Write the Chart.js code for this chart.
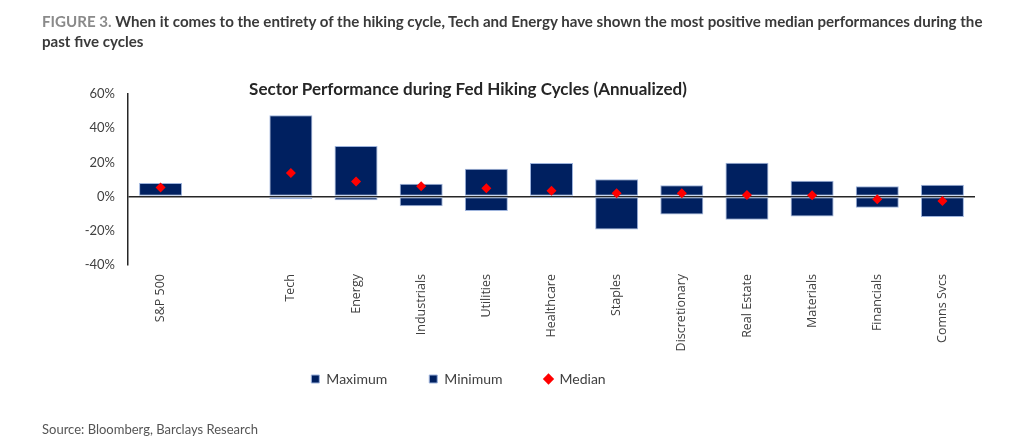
<!DOCTYPE html>
<html><head><meta charset="utf-8">
<script src="https://cdn.jsdelivr.net/npm/chart.js@4.4.1/dist/chart.umd.min.js"></script>
<style>
html,body{margin:0;padding:0;background:#fff;width:1024px;height:440px;overflow:hidden;position:relative;font-family:Lato,sans-serif}
#wrap{position:absolute;left:0;top:0;width:1024px;height:440px}
#fig{position:absolute;left:42px;top:11px;white-space:nowrap;font-size:15.1px;font-weight:700;line-height:20px;color:#3a3a3a}
#fig .lab{color:#8a8a8a}
#ctitle{position:absolute;left:468px;top:78px;transform:translateX(-50%);white-space:nowrap;font-weight:700;font-size:17px;color:#262626}
#src{position:absolute;left:42px;top:421px;white-space:nowrap;font-size:13px;color:#555}
#probe{position:absolute;left:-999px;top:0;font-family:'Open Sans';font-size:12px}
</style></head><body>
<div id="wrap"><canvas id="c" width="1024" height="440"></canvas></div>
<div id="fig"><span class="lab">FIGURE 3.</span> When it comes to the entirety of the hiking cycle, Tech and Energy have shown the most positive median performances during the<br>past five cycles</div>
<div id="ctitle">Sector Performance during Fed Hiking Cycles (Annualized)</div>
<div id="src">Source: Bloomberg, Barclays Research</div>
<div id="probe">Discretionary</div>
<script>
const categories = ['S&P 500', '', 'Tech', 'Energy', 'Industrials', 'Utilities', 'Healthcare', 'Staples', 'Discretionary', 'Real Estate', 'Materials', 'Financials', 'Comns Svcs'];
const maximumValues = [7.9, null, 47.6, 29.6, 7.5, 16.3, 19.6, 10.2, 6.7, 19.8, 9.2, 6.1, 6.9];
const minimumValues = [-0.4, null, -1.5, -2.1, -5.6, -8.4, -1.0, -19.2, -10.4, -13.5, -11.6, -6.5, -11.9];
const medianValues = [5.3, null, 13.8, 8.8, 6.1, 4.9, 3.4, 2.0, 2.0, 1.0, 0.8, -1.5, -2.5];
const yTickValues = [60, 40, 20, 0, -20, -40];

const NAVY = '#002060';
const EDGE = '#9db3dc';

const legendPlace = {
  id: 'legendPlace',
  afterLayout(chart) {
    const lg = chart.legend;
    if (!lg) return;
    const h = lg.bottom - lg.top;
    const dx = -29;
    lg.left += dx; lg.right += dx;
    lg.top = 330; lg.bottom = 330 + h;
  }
};

function build() {
  new Chart(document.getElementById('c'), {
    data: {
      labels: categories,
      datasets: [
        { type: 'bar', label: 'Maximum', data: maximumValues, backgroundColor: NAVY, borderColor: EDGE, borderWidth: 1, borderSkipped: false, pointStyle: 'rect', barPercentage: 0.66, categoryPercentage: 1, stack: 's', order: 2 },
        { type: 'bar', label: 'Minimum', data: minimumValues, backgroundColor: NAVY, borderColor: EDGE, borderWidth: 1, borderSkipped: false, pointStyle: 'rect', barPercentage: 0.66, categoryPercentage: 1, stack: 's', order: 2 },
        { type: 'line', label: 'Median', data: medianValues, showLine: false, pointStyle: 'rectRot', pointRadius: 5, pointHoverRadius: 5, backgroundColor: '#ff0000', borderColor: '#ff0000', borderWidth: 0, order: 0 }
      ]
    },
    plugins: [legendPlace],
    options: {
      responsive: false,
      animation: false,
      devicePixelRatio: 1,
      layout: { padding: { top: 94, left: 0, right: 49, bottom: 14 } },
      plugins: {
        title: { display: false },
        tooltip: { enabled: false },
        legend: {
          position: 'bottom',
          labels: {
            usePointStyle: true,
            boxWidth: 8, boxHeight: 8,
            padding: 42,
            color: '#404040',
            font: { family: 'Lato', size: 14 },
            sort: (a, b) => a.datasetIndex - b.datasetIndex
          }
        }
      },
      scales: {
        x: {
          stacked: true,
          grid: { display: false, drawTicks: false },
          border: { display: false },
          ticks: {
            autoSkip: false, maxRotation: 90, minRotation: 90, padding: 9,
            color: '#404040', font: { family: "'Open Sans', 'DejaVu Sans', sans-serif", size: 12.5 }
          },
          afterFit(s) { s.height = 95; }
        },
        y: {
          stacked: true,
          min: -40, max: 60,
          afterBuildTicks(s) { s.ticks = yTickValues.map(v => ({ value: v })); },
          grid: {
            drawTicks: false,
            color: c => (c.tick && c.tick.value === 0) ? '#262626' : 'rgba(0,0,0,0)',
            lineWidth: 1.5
          },
          border: { display: true, color: '#262626', width: 1.5 },
          ticks: {
            padding: 13,
            color: '#404040',
            font: { family: 'Lato', size: 13 },
            callback: v => v + '%'
          },
          afterFit(s) { s.width = 128; }
        }
      }
    }
  });
}
if (document.fonts && document.fonts.load) {
  Promise.all([
    document.fonts.load("12px 'Open Sans'"),
    document.fonts.load("13px Lato"),
    document.fonts.load("14px Lato")
  ]).then(build, build);
} else { build(); }
</script>
</body></html>
